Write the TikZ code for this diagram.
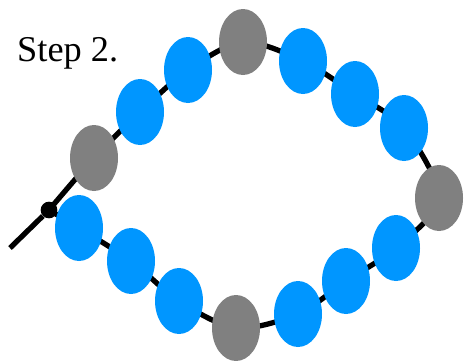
\documentclass[tikz,border=0pt]{standalone}
\usepackage{fontspec}
\setmainfont{Liberation Serif}
\usetikzlibrary{backgrounds, shapes.geometric}
\definecolor{azul}{RGB}{0,150,255}
\definecolor{cinza}{RGB}{128,128,128}
\tikzset{
  az/.style = {ellipse, fill=azul, minimum width=1.44cm,
    minimum height=1.98cm, inner sep=0pt},
  ci/.style = {ellipse, fill=cinza, minimum width=1.44cm,
    minimum height=1.98cm, inner sep=0pt},
  fio/.style = {draw=black, line width=4.5pt},
  pto/.style = {circle, fill=black, minimum size=0.5cm, inner sep=0pt},
  rot/.style = {font=\fontsize{31}{36}\selectfont, anchor=base west,
    inner sep=0pt}
}

\begin{document}
\begin{tikzpicture}[x=0.3mm, y=-0.3mm]
  \useasboundingbox (0,0) rectangle (473,360);
  \node [rot] (passo) at (17,61) {Step 2.};
  % contas de cima
  \node [ci] (c1) at (94,158) {};
  \node [az] (a1) at (140,112) {};
  \node [az] (a2) at (188,70) {};
  \node [ci] (c2) at (243,42) {};
  \node [az] (a3) at (303,61) {};
  \node [az] (a4) at (355,94) {};
  \node [az] (a5) at (404,128) {};
  \node [ci] (c3) at (439,198) {};
  % contas de baixo
  \node [az] (a6) at (396,248) {};
  \node [az] (a7) at (346,281) {};
  \node [az] (a8) at (298,314) {};
  \node [ci] (c4) at (236,328) {};
  \node [az] (a9) at (179,301) {};
  \node [az] (a10) at (131,261) {};
  \node [az] (a11) at (79,228) {};
  \node [pto] (p) at (49,210) {};
  \coordinate (ponta) at (10,248);
  \begin{scope}[on background layer]
    \draw [fio] (ponta) -- (p);
    \draw [fio] plot [smooth] coordinates {(p) (c1) (a1) (a2) (c2)
      (a3) (a4) (a5) (c3) (a6) (a7) (a8) (c4) (a9) (a10) (a11) (p)};
  \end{scope}
\end{tikzpicture}
\end{document}
